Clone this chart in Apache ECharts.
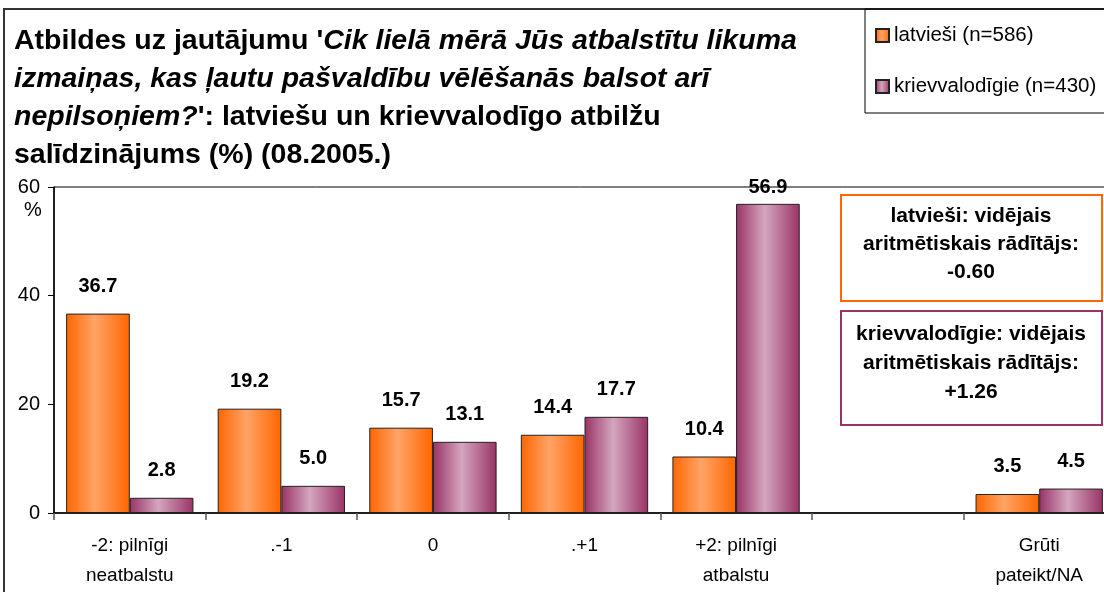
<!DOCTYPE html>
<html>
<head>
<meta charset="utf-8">
<script src="https://cdn.jsdelivr.net/npm/echarts@6/dist/echarts.min.js"></script>
<style>
  html, body { margin: 0; padding: 0; background: #fff; }
  #chart { width: 1104px; height: 592px; }
</style>
</head>
<body>
<div id="chart"></div>
<script>
// answer categories (x axis)
const categories = ['-2: pilnīgi\nneatbalstu', '.-1', '0', '.+1', '+2: pilnīgi\natbalstu', '', 'Grūti\npateikt/NA']
const seriesNames = ['latvieši (n=586)', 'krievvalodīgie (n=430)']
const latviesi = [36.7, 19.2, 15.7, 14.4, 10.4, null, 3.5]
const krievvalodigie = [2.8, 5.0, 13.1, 17.7, 56.9, null, 4.5]
const yMin = 0
const yMax = 60
const yStep = 20
const notes = [
  'latvieši: vidējais\naritmētiskais rādītājs:\n-0.60',
  'krievvalodīgie: vidējais\naritmētiskais rādītājs:\n+1.26'
]

const FONT = '"Liberation Sans", Arial, sans-serif'

function grad(edge, mid) {
  return new echarts.graphic.LinearGradient(0, 0, 1, 0, [
    { offset: 0, color: edge },
    { offset: 0.45, color: mid },
    { offset: 1, color: edge }
  ])
}

const chart = echarts.init(document.getElementById('chart'))

const labelOpt = {
  show: true,
  position: 'top',
  distance: 17,
  fontFamily: FONT,
  fontSize: 20,
  fontWeight: 'bold',
  color: '#000',
  formatter: p => (p.value == null ? '' : p.value.toFixed(1))
}

chart.setOption({
  backgroundColor: '#fff',
  animation: false,
  title: {
    left: 14,
    top: 22,
    padding: 0,
    text: '{b|Atbildes uz jautājumu \'}{i|Cik lielā mērā Jūs atbalstītu likuma}\n' +
      '{i|izmaiņas, kas ļautu pašvaldību vēlēšanās balsot arī}\n' +
      '{i|nepilsoņiem?}{b|\': latviešu un krievvalodīgo atbilžu}\n' +
      '{b|salīdzinājums (%) (08.2005.)}',
    textStyle: {
      fontFamily: FONT,
      fontSize: 28.5,
      fontWeight: 'bold',
      lineHeight: 38,
      color: '#000',
      rich: {
        b: { fontFamily: FONT, fontSize: 28.5, fontWeight: 'bold', lineHeight: 38, color: '#000' },
        i: { fontFamily: FONT, fontSize: 28.5, fontWeight: 'bold', fontStyle: 'italic', lineHeight: 38, color: '#000' }
      }
    }
  },
  legend: {
    orient: 'vertical',
    left: 875,
    top: 25,
    padding: 0,
    itemGap: 30,
    itemWidth: 13,
    itemHeight: 13,
    icon: 'rect',
    data: seriesNames,
    textStyle: { fontFamily: FONT, fontSize: 20.5, lineHeight: 21, color: '#000' }
  },
  grid: {
    left: 54,
    top: 187,
    width: 1061,
    bottom: 79,
    containLabel: false,
    outerBoundsMode: 'none',
    show: true,
    borderColor: '#000',
    borderWidth: 1
  },
  xAxis: {
    type: 'category',
    data: categories,
    boundaryGap: true,
    axisLine: { lineStyle: { color: '#000', width: 1.5 } },
    axisTick: { show: true, alignWithLabel: false, length: 7, lineStyle: { color: '#555', width: 1.5 } },
    axisLabel: {
      interval: 0,
      margin: 18,
      fontFamily: FONT,
      fontSize: 19,
      lineHeight: 30,
      color: '#000'
    }
  },
  yAxis: {
    type: 'value',
    min: yMin,
    max: yMax,
    interval: yStep,
    axisLine: { show: true, lineStyle: { color: '#000', width: 1.5 } },
    axisTick: { show: true, length: 6, lineStyle: { color: '#000' } },
    splitLine: { show: false },
    axisLabel: { margin: 14, fontFamily: FONT, fontSize: 20, color: '#000' }
  },
  series: [{
    name: seriesNames[0],
    type: 'bar',
    barGap: '0%',
    barCategoryGap: '16%',
    data: latviesi,
    itemStyle: { color: grad('#FF6600', '#FFA366'), borderColor: '#222', borderWidth: 1 },
    label: labelOpt
  }, {
    name: seriesNames[1],
    type: 'bar',
    barGap: '0%',
    barCategoryGap: '16%',
    // the tallest label sits lower, on the plot's top edge
    data: krievvalodigie.map(v => (v != null && v > 55 ? { value: v, label: { distance: 6 } } : v)),
    itemStyle: { color: grad('#993366', '#D4A6BE'), borderColor: '#222', borderWidth: 1 },
    label: labelOpt
  }],
  graphic: [
    // outer chart frame
    { type: 'rect', shape: { x: 4, y: 9, width: 1200, height: 700 }, style: { fill: null, stroke: '#333', lineWidth: 2 }, silent: true },
    // legend frame
    { type: 'rect', shape: { x: 865, y: 9, width: 300, height: 104 }, style: { fill: null, stroke: '#000', lineWidth: 1 }, silent: true },
    { type: 'text', left: 24, top: 200, style: { text: '%', fontFamily: FONT, fontSize: 20, fill: '#000' } },
    { type: 'rect', shape: { x: 841, y: 195, width: 261, height: 106 }, style: { fill: '#fff', stroke: '#FF6600', lineWidth: 2 } },
    {
      type: 'text', x: 971, y: 244,
      style: { text: notes[0], fontFamily: FONT, fontSize: 21, fontWeight: 'bold', lineHeight: 28, fill: '#000', align: 'center', verticalAlign: 'middle' }
    },
    { type: 'rect', shape: { x: 841, y: 311, width: 261, height: 114 }, style: { fill: '#fff', stroke: '#993366', lineWidth: 2 } },
    {
      type: 'text', x: 971, y: 363,
      style: { text: notes[1], fontFamily: FONT, fontSize: 21, fontWeight: 'bold', lineHeight: 29, fill: '#000', align: 'center', verticalAlign: 'middle' }
    }
  ]
})
</script>
</body>
</html>
